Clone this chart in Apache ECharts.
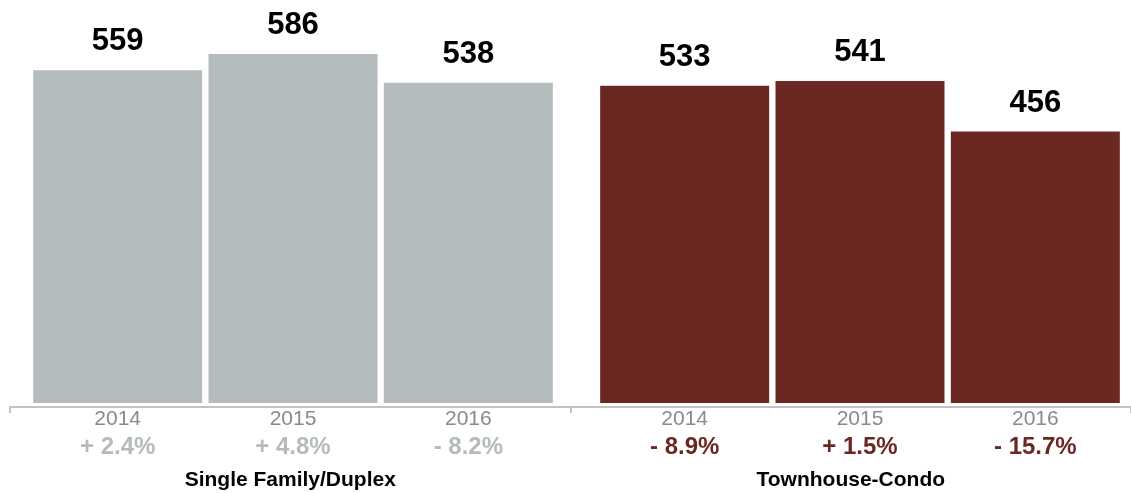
<!DOCTYPE html>
<html>
<head>
<meta charset="utf-8">
<script src="https://cdn.jsdelivr.net/npm/echarts@6/dist/echarts.min.js"></script>
<style>
  html, body { margin: 0; padding: 0; background: #fff; }
  #chart { width: 1131px; height: 493px; }
</style>
</head>
<body>
<div id="chart"></div>
<script>
// data
const groups = ['Single Family/Duplex', 'Townhouse-Condo']
const years = ['2014', '2015', '2016']
const singleFamily = [559, 586, 538]
const townhouse = [533, 541, 456]
const singleFamilyChange = ['+ 2.4%', '+ 4.8%', '- 8.2%']
const townhouseChange = ['- 8.9%', '+ 1.5%', '- 15.7%']

const GRAY = '#b4bbbc'
const RED = '#6b2822'
const FONT = 'Liberation Sans, Arial, Helvetica, sans-serif'

const chart = echarts.init(document.getElementById('chart'))

function yearAxis(gridIndex, changes, color) {
  return {
    type: 'category',
    gridIndex: gridIndex,
    data: years,
    axisLine: { show: false },
    axisTick: { show: false },
    axisLabel: {
      margin: 2,
      formatter: (val, idx) => '{y|' + val + '}\n{p|' + changes[idx] + '}',
      rich: {
        y: { fontFamily: FONT, fontSize: 21, color: '#8a8a8a', lineHeight: 28 },
        p: { fontFamily: FONT, fontSize: 24, fontWeight: 'bold', color: color, lineHeight: 29 }
      }
    }
  }
}

function valueAxis(gridIndex) {
  return {
    type: 'value', gridIndex: gridIndex, min: 0, max: 650,
    show: false, splitLine: { show: false }
  }
}

function barSeries(idx, data, color) {
  return {
    type: 'bar',
    xAxisIndex: idx,
    yAxisIndex: idx,
    data: data,
    barWidth: 169,
    itemStyle: { color: color },
    label: {
      show: true,
      position: 'top',
      distance: 13,
      fontFamily: FONT,
      fontSize: 31,
      fontWeight: 'bold',
      color: '#000'
    },
    silent: true
  }
}

const option = {
  animation: false,
  backgroundColor: '#fff',
  grid: [
    { left: 30, top: 16, width: 526, bottom: 90 },
    { left: 597, top: 16, width: 526, bottom: 90 },
    { left: 10, top: 16, width: 1134, bottom: 86 }
  ],
  xAxis: [
    yearAxis(0, singleFamilyChange, GRAY),
    yearAxis(1, townhouseChange, RED),
    {
      type: 'category',
      gridIndex: 2,
      data: groups,
      axisLine: { show: true, lineStyle: { color: '#c2c2c2', width: 2 } },
      axisTick: { show: true, length: 6, lineStyle: { color: '#c2c2c2', width: 2 } },
      axisLabel: {
        margin: 61,
        fontFamily: FONT,
        fontSize: 21,
        fontWeight: 'bold',
        lineHeight: 24,
        color: '#000'
      }
    }
  ],
  yAxis: [valueAxis(0), valueAxis(1), valueAxis(2)],
  series: [
    barSeries(0, singleFamily, GRAY),
    barSeries(1, townhouse, RED)
  ]
}

chart.setOption(option)
</script>
</body>
</html>
